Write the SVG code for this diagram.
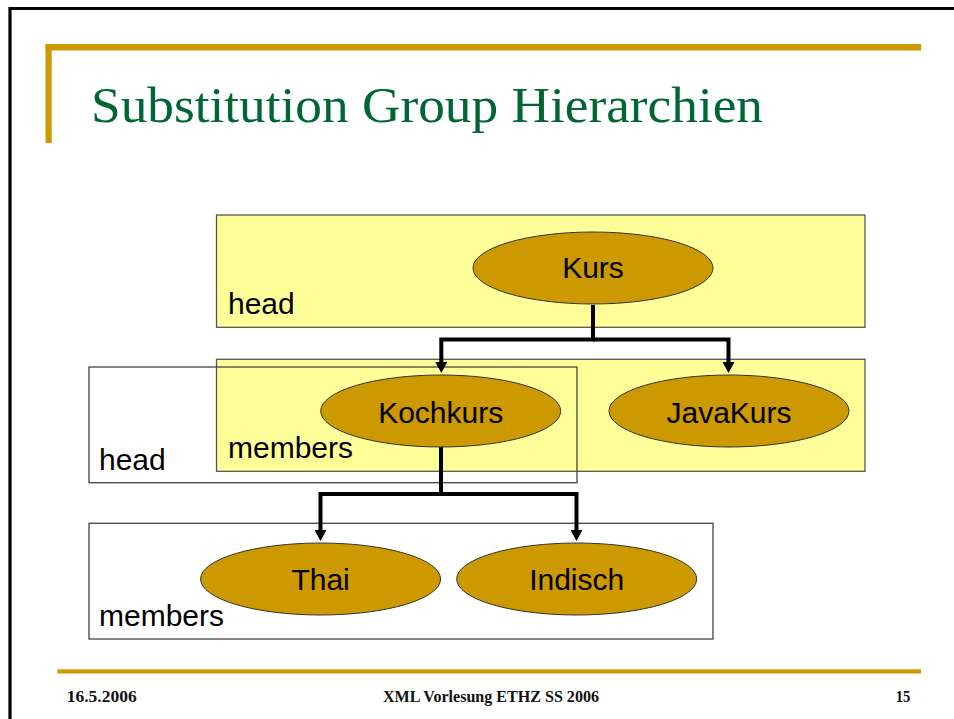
<svg xmlns="http://www.w3.org/2000/svg" width="954" height="719" viewBox="0 0 954 719">
<style>
.ybox{fill:#ffff99;stroke:#555;stroke-width:1.3}
.wbox{fill:none;stroke:#444;stroke-width:1.3}
.ell{fill:#cc9900;stroke:#333;stroke-width:1}
.lbl{font-family:"Liberation Sans",Arial,sans-serif;font-size:30px;fill:#000}
.ctr{text-anchor:middle}
.conn{fill:none;stroke:#000;stroke-width:4;stroke-linejoin:miter}
.foot{font-family:"Liberation Serif","Times New Roman",serif;font-size:17px;font-weight:bold;fill:#111}
</style>
<defs>
<marker id="arr" markerUnits="userSpaceOnUse" markerWidth="12" markerHeight="12" viewBox="0 0 11 12" refX="2" refY="6" orient="auto">
<path d="M0,0 L11,6 L0,12 z" fill="#000"/>
</marker>
</defs>
<rect width="954" height="719" fill="#fff"/>
<g id="frame">
<path d="M10,719 V8.5 H954" fill="none" stroke="#000" stroke-width="3.2"/>
<rect x="45.5" y="44" width="875.5" height="6.5" fill="#cc9900"/>
<rect x="45.5" y="44" width="6.2" height="99" fill="#cc9900"/>
<rect x="57.5" y="669.3" width="863.5" height="4.2" fill="#cc9900"/>
</g>
<text id="title" x="91" y="121.7" font-family="'Liberation Serif','Times New Roman',serif" font-size="51" fill="#006633" textLength="672" lengthAdjust="spacingAndGlyphs">Substitution Group Hierarchien</text>
<g id="box-head1">
<rect class="ybox" x="216.5" y="215" width="648.5" height="112.3"/>
<text class="lbl" x="228" y="314">head</text>
</g>
<g id="box-members1">
<rect class="ybox" x="216.5" y="359.3" width="648.5" height="112"/>
<text class="lbl" x="228" y="458">members</text>
</g>
<g id="box-head2">
<rect class="wbox" x="89" y="367" width="488" height="115.7"/>
<text class="lbl" x="99" y="470">head</text>
</g>
<g id="box-members2">
<rect class="wbox" x="89" y="523.3" width="624" height="115.7"/>
<text class="lbl" x="99" y="626">members</text>
</g>
<g id="connectors">
<path class="conn" d="M593,305 V339.5 H441.3 V364" marker-end="url(#arr)"/>
<path class="conn" d="M593,339.5 H728.5 V364" marker-end="url(#arr)"/>
<path class="conn" d="M441,447 V494 H320.5 V532" marker-end="url(#arr)"/>
<path class="conn" d="M441,494 H576.5 V532" marker-end="url(#arr)"/>
</g>
<g id="node-kurs">
<ellipse class="ell" cx="593" cy="268" rx="120" ry="36"/>
<text class="lbl ctr" x="593" y="278">Kurs</text>
</g>
<g id="node-kochkurs">
<ellipse class="ell" cx="440.7" cy="411" rx="120" ry="36"/>
<text class="lbl ctr" x="440.7" y="422.5">Kochkurs</text>
</g>
<g id="node-javakurs">
<ellipse class="ell" cx="729" cy="411" rx="120" ry="36"/>
<text class="lbl ctr" x="729" y="422.5">JavaKurs</text>
</g>
<g id="node-thai">
<ellipse class="ell" cx="320.6" cy="579" rx="120" ry="36"/>
<text class="lbl ctr" x="320.6" y="590">Thai</text>
</g>
<g id="node-indisch">
<ellipse class="ell" cx="576.7" cy="579" rx="120" ry="36"/>
<text class="lbl ctr" x="576.7" y="590">Indisch</text>
</g>
<g id="footer">
<text class="foot" x="66.7" y="702" textLength="70" lengthAdjust="spacingAndGlyphs">16.5.2006</text>
<text class="foot" x="383" y="702" textLength="216" lengthAdjust="spacingAndGlyphs">XML Vorlesung ETHZ SS 2006</text>
<text class="foot" x="895.7" y="702" textLength="14.6" lengthAdjust="spacingAndGlyphs">15</text>
</g>
</svg>
